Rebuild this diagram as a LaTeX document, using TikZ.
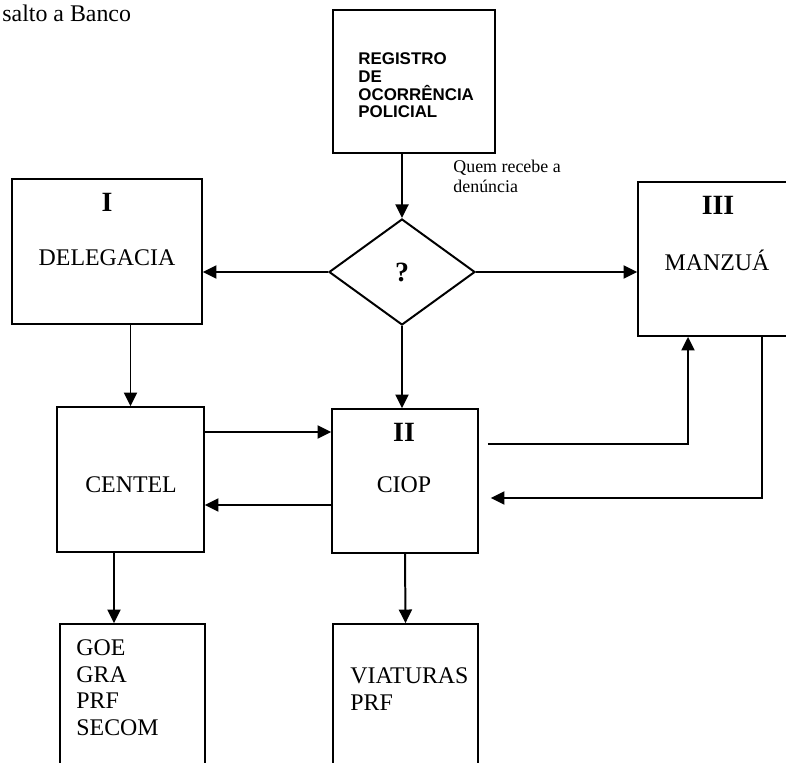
\documentclass[tikz,border=0pt]{standalone}
\usepackage{fontspec}
\setmainfont{Liberation Serif}
\newfontfamily\regfont{Liberation Sans}
\usepackage{tikz}
\usetikzlibrary{arrows.meta, positioning, shapes.geometric, calc}

\newcommand{\pxu}{0.01767cm}

\begin{document}
\begin{tikzpicture}[
  x=\pxu, y=-\pxu,
  >={Triangle[length=2.4mm, width=2.3mm]},
  box/.style={rectangle, draw=black, line width=0.9pt, inner sep=0pt},
  dec/.style={diamond, draw=black, line width=1pt, inner sep=0pt, minimum width=146*\pxu, minimum height=106*\pxu, font=\fontsize{14}{16}\bfseries},
  num/.style={inner sep=0pt, font=\fontsize{14}{16}\bfseries},
  txt/.style={inner sep=0pt, font=\fontsize{12}{13.5}\selectfont},
  lst/.style={inner sep=0pt, anchor=north west, align=left, font=\fontsize{12}{13.5}\selectfont},
  flow/.style={->, line width=1pt}
]
  \useasboundingbox (0,0) rectangle (786,763);
  \clip (0,0) rectangle (786,763);

  \node[txt, anchor=base west] (ttl) at (2,22) {salto a Banco};

  % boxes
  \node[box, minimum width=162*\pxu, minimum height=143*\pxu] (reg) at (414,81.5) {};
  \node[inner sep=0pt, anchor=north west, align=left, font=\regfont\bfseries\fontsize{8.5}{9}\selectfont] (regT) at (358,52) {REGISTRO\\DE\\OCORRÊNCIA\\POLICIAL};

  \node[dec] (q) at (402,272) {?};
  \node[inner sep=0pt, anchor=north west, align=left, font=\fontsize{9}{9.8}\selectfont] (qT) at (453,160) {Quem recebe a\\denúncia};

  \node[box, minimum width=190*\pxu, minimum height=145*\pxu] (deleg) at (107,251.5) {};
  \node[num] (delegN) at (107,202) {I};
  \node[txt] (delegT) at (107,258) {DELEGACIA};

  \node[box, minimum width=158*\pxu, minimum height=154*\pxu] (manzua) at (717,259) {};
  \node[num] (manzuaN) at (718,205) {III};
  \node[txt] (manzuaT) at (717,260) {MANZUÁ};

  \node[box, minimum width=147*\pxu, minimum height=145*\pxu] (centel) at (130.5,479.5) {};
  \node[txt] (centelT) at (131,485) {CENTEL};

  \node[box, minimum width=146*\pxu, minimum height=144*\pxu] (ciop) at (405,481) {};
  \node[num] (ciopN) at (404,432) {II};
  \node[txt] (ciopT) at (404,485) {CIOP};

  \node[box, minimum width=145*\pxu, minimum height=176*\pxu] (goe) at (132.5,712) {};
  \node[lst] (goeT) at (76,639) {GOE\\GRA\\PRF\\SECOM};

  \node[box, minimum width=145*\pxu, minimum height=176*\pxu] (viat) at (405.5,712) {};
  \node[lst] (viatT) at (350,667) {VIATURAS\\PRF};

  % connectors
  \draw[flow] (reg.south -| q.north) -- (q.north);
  \draw[flow] (q.west) -- (deleg.east |- q.west);
  \draw[flow] (q.east) -- (manzua.west |- q.east);
  \draw[flow] (q.south) -- (ciop.north -| q.south);
  \draw[flow] (deleg.south -| centel.north) -- (centel.north);
  \draw[flow] (centel.east |- ciopN) -- (ciop.west |- ciopN);
  \coordinate (back) at ($(ciop.west)+(0,24)$);
  \draw[flow] (back) -- (centel.east |- back);
  \coordinate (cg) at ($(centel.south)+(-16.5,0)$);
  \draw[flow] (cg) -- (goe.north -| cg);
  \draw[flow] (ciop.south) -- (viat.north);
  \coordinate (out) at ($(ciop.east)+(9,-37)$);
  \coordinate (up) at ($(manzua.south)+(-29,0)$);
  \draw[flow] (out) -| (up);
  \coordinate (down) at ($(manzua.south)+(45,0)$);
  \coordinate (in) at ($(ciop.east)+(12,17)$);
  \draw[flow] (down) |- (in);
\end{tikzpicture}
\end{document}
